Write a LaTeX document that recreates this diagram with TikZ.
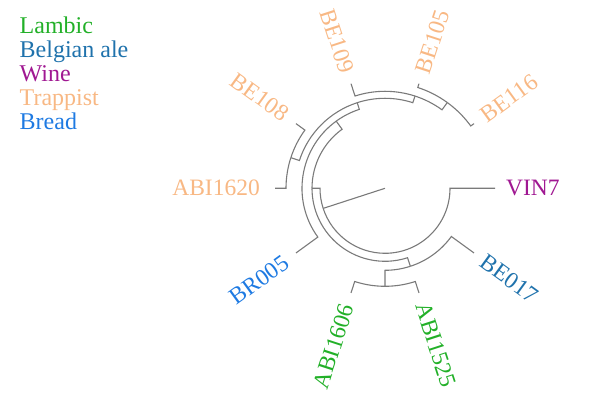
\documentclass[tikz,border=0pt]{standalone}
\usepackage{fontspec}
\setmainfont{Liberation Serif}
\definecolor{lambic}{RGB}{34,176,40}
\definecolor{belgian}{RGB}{31,114,172}
\definecolor{wine}{RGB}{160,24,146}
\definecolor{trappist}{RGB}{248,184,132}
\definecolor{bread}{RGB}{30,122,226}
\definecolor{twig}{RGB}{122,122,122}
\tikzset{
  branch/.style={draw=twig, line width=1.1pt},
  leaf/.style={inner sep=0pt, font=\fontsize{23.5}{24}\selectfont},
  key/.style={inner sep=0pt, anchor=base west, font=\fontsize{24}{24}\selectfont},
}

\begin{document}
\begin{tikzpicture}[x=1pt,y=1pt]
\useasboundingbox (0,0) rectangle (600,409);
% legend
\node[key, text=lambic] (kLambic) at (19.5,375.5) {Lambic};
\node[key, text=belgian] (kBelgian) at (19.5,351.5) {Belgian ale};
\node[key, text=wine] (kWine) at (19.5,327.5) {Wine};
\node[key, text=trappist] (kTrappist) at (19.5,303.5) {Trappist};
\node[key, text=bread] (kBread) at (19.5,279.5) {Bread};

\begin{scope}[shift={(385,220.7)}]
% leaf tips
\coordinate (VIN7) at (0:110);
\coordinate (BE017) at (324:110);
\coordinate (ABI1525) at (288:110);
\coordinate (ABI1606) at (252:110);
\coordinate (BR005) at (216:110);
\coordinate (ABI1620) at (180:110);
\coordinate (BE108) at (144:110);
\coordinate (BE109) at (108:110);
\coordinate (BE105) at (72:110);
\coordinate (BE116) at (36:110);
% inner nodes
\coordinate (root) at (0,0);
\coordinate (n1) at (54:106);
\coordinate (n2) at (72:97);
\coordinate (n3) at (162:99);
\coordinate (n4) at (108:90);
\coordinate (n5) at (126:83);
\coordinate (n7) at (270:98);
\coordinate (n8) at (288:82);
\coordinate (n9) at (180:73);
\coordinate (n10) at (198:65);

% labels
\node[leaf, text=wine, anchor=west] (lVIN7) at (0:121) {VIN7};
\node[leaf, text=belgian, anchor=west, rotate=-36] (lBE017) at (324:121) {BE017};
\node[leaf, text=lambic, anchor=west, rotate=-72] (lABI1525) at (288:121) {ABI1525};
\node[leaf, text=lambic, anchor=east, rotate=72] (lABI1606) at (252:122) {ABI1606};
\node[leaf, text=bread, anchor=east, rotate=36] (lBR005) at (216:122) {BR005};
\node[leaf, text=trappist, anchor=east] (lABI1620) at (180:125) {ABI1620};
\node[leaf, text=trappist, anchor=east, rotate=-36] (lBE108) at (144:122) {BE108};
\node[leaf, text=trappist, anchor=east, rotate=-72] (lBE109) at (108:122) {BE109};
\node[leaf, text=trappist, anchor=west, rotate=72] (lBE105) at (72:121) {BE105};
\node[leaf, text=trappist, anchor=west, rotate=36] (lBE116) at (36:121) {BE116};

% branches
\draw[branch] (BE105) -- (72:106) arc[start angle=72, end angle=54, radius=106];
\draw[branch] (BE116) -- (36:106) arc[start angle=36, end angle=54, radius=106];
\draw[branch] (BE109) -- (108:97) arc[start angle=108, end angle=72, radius=97];
\draw[branch] (n1) -- (54:97) arc[start angle=54, end angle=72, radius=97];
\draw[branch] (BE108) -- (144:99) arc[start angle=144, end angle=162, radius=99];
\draw[branch] (ABI1620) -- (180:99) arc[start angle=180, end angle=162, radius=99];
\draw[branch] (n2) -- (72:90) arc[start angle=72, end angle=108, radius=90];
\draw[branch] (n3) -- (162:90) arc[start angle=162, end angle=108, radius=90];
\draw[branch] (n4) -- (108:83) arc[start angle=108, end angle=126, radius=83];
\draw[branch] (BR005) -- (216:83) arc[start angle=216, end angle=126, radius=83];
\draw[branch] (ABI1606) -- (252:98) arc[start angle=252, end angle=270, radius=98];
\draw[branch] (ABI1525) -- (288:98) arc[start angle=288, end angle=270, radius=98];
\draw[branch] (n7) -- (270:82) arc[start angle=270, end angle=288, radius=82];
\draw[branch] (BE017) -- (324:82) arc[start angle=324, end angle=288, radius=82];
\draw[branch] (n5) -- (126:73) arc[start angle=126, end angle=180, radius=73];
\draw[branch] (n8) -- (288:73) arc[start angle=288, end angle=180, radius=73];
\draw[branch] (n9) -- (180:65) arc[start angle=180, end angle=198, radius=65];
\draw[branch] (VIN7) -- (360:65) arc[start angle=360, end angle=198, radius=65];
\draw[branch] (n10) -- (root);
\end{scope}
\end{tikzpicture}
\end{document}
